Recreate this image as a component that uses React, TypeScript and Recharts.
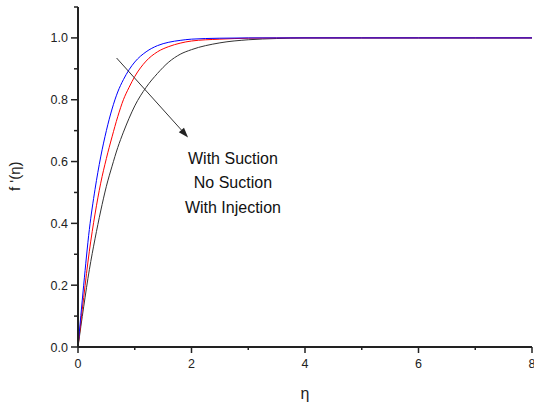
import React from "react";
import { LineChart, Line, XAxis, YAxis, ReferenceLine, ReferenceDot } from "recharts";

const eta = [0, 0.1, 0.2, 0.3, 0.4, 0.5, 0.6, 0.7, 0.8, 0.9, 1.0, 1.2, 1.4, 1.6, 1.8, 2.0, 2.5, 3.0, 3.5, 4.0, 5.0, 6.0, 7.0, 8.0];
const withSuction = [0, 0.2, 0.38, 0.51, 0.615, 0.7, 0.77, 0.825, 0.865, 0.897, 0.922, 0.955, 0.975, 0.986, 0.992, 0.996, 0.999, 1.0, 1.0, 1.0, 1.0, 1.0, 1.0, 1.0];
const noSuction = [0, 0.16, 0.31, 0.43, 0.53, 0.61, 0.68, 0.745, 0.8, 0.84, 0.875, 0.925, 0.955, 0.972, 0.983, 0.99, 0.996, 0.999, 1.0, 1.0, 1.0, 1.0, 1.0, 1.0];
const withInjection = [0, 0.13, 0.25, 0.35, 0.44, 0.52, 0.585, 0.645, 0.695, 0.74, 0.78, 0.84, 0.885, 0.922, 0.947, 0.962, 0.984, 0.994, 0.998, 1.0, 1.0, 1.0, 1.0, 1.0];

const xMajorTicks = [0, 2, 4, 6, 8];
const xMinorTicks = [1, 3, 5, 7];
const yMajorTicks = [0, 0.2, 0.4, 0.6, 0.8, 1.0];
const yMinorTicks = [0.1, 0.3, 0.5, 0.7, 0.9, 1.1];
const legendLabels = ["With Suction", "No Suction", "With Injection"];

const data = eta.map((e, i) => ({
  eta: e,
  s: withSuction[i],
  n: noSuction[i],
  j: withInjection[i],
}));

const FONT = "Liberation Sans, Arial, sans-serif";

const isMajor = (v: number, majors: number[]) => majors.some((m) => Math.abs(m - v) < 1e-9);

const YTick = (props: any) => {
  const { x, y, payload } = props;
  const major = isMajor(payload.value, yMajorTicks);
  return (
    <g>
      <line x1={x} x2={x - (major ? 7 : 4)} y1={y} y2={y} stroke="#222" strokeWidth={1.5} />
      {major && (
        <text x={x - 10} y={y} dy="0.36em" textAnchor="end" fontSize={12.5} fill="#222" fontFamily={FONT}>
          {payload.value.toFixed(1)}
        </text>
      )}
    </g>
  );
};

const XTick = (props: any) => {
  const { x, y, payload } = props;
  const major = isMajor(payload.value, xMajorTicks);
  return (
    <g>
      <line x1={x} x2={x} y1={y} y2={y + (major ? 6 : 3)} stroke="#222" strokeWidth={1.5} />
      {major && (
        <text x={x} y={y + 21} textAnchor="middle" fontSize={12.5} fill="#222" fontFamily={FONT}>
          {String(payload.value)}
        </text>
      )}
    </g>
  );
};

const ArrowShape = (props: any) => {
  const { x1, y1, x2, y2 } = props;
  if ([x1, y1, x2, y2].some((v) => typeof v !== "number" || isNaN(v))) return null;
  const ang = Math.atan2(y2 - y1, x2 - x1);
  const len = 10;
  const w = 3.5;
  const bx = x2 - len * Math.cos(ang);
  const by = y2 - len * Math.sin(ang);
  const px = -Math.sin(ang) * w;
  const py = Math.cos(ang) * w;
  return (
    <g>
      <line x1={x1} y1={y1} x2={bx} y2={by} stroke="#333" strokeWidth={1} />
      <polygon points={`${x2},${y2} ${bx + px},${by + py} ${bx - px},${by - py}`} fill="#222" />
    </g>
  );
};

const makeTextShape = (label: string) => (props: any) => {
  const { cx, cy } = props;
  return (
    <text x={cx} y={cy} textAnchor="middle" fontSize={16} fill="#111" fontFamily={FONT}>
      {label}
    </text>
  );
};

export default function App() {
  return (
    <div style={{ position: "absolute", left: 0, top: 0, background: "#fff" }}>
      <LineChart width={534} height={405} data={data} margin={{ top: 7, right: 2, bottom: 0, left: 0 }}>
        <XAxis
          type="number"
          dataKey="eta"
          domain={[0, 8]}
          ticks={[...xMajorTicks, ...xMinorTicks].sort((a, b) => a - b)}
          interval={0}
          height={58}
          tickSize={0}
          tickMargin={0}
          tickLine={false}
          axisLine={{ stroke: "#222", strokeWidth: 2 }}
          tick={<XTick />}
          label={{ value: "η", position: "insideTop", dy: 36, fontSize: 16, fill: "#222", fontFamily: FONT }}
        />
        <YAxis
          type="number"
          domain={[0, 1.1]}
          ticks={[...yMajorTicks, ...yMinorTicks].sort((a, b) => a - b)}
          interval={0}
          width={78}
          tickSize={0}
          tickMargin={0}
          tickLine={false}
          axisLine={{ stroke: "#222", strokeWidth: 2 }}
          tick={<YTick />}
          label={{ value: "f '(η)", angle: -90, position: "insideLeft", dx: 10, dy: 14, fontSize: 15, fill: "#222", fontFamily: FONT }}
        />
        <Line type="monotone" dataKey="j" stroke="#333333" strokeWidth={1} dot={false} isAnimationActive={false} />
        <Line type="monotone" dataKey="n" stroke="#ff0000" strokeWidth={1} dot={false} isAnimationActive={false} />
        <Line type="monotone" dataKey="s" stroke="#0000ff" strokeWidth={1} dot={false} isAnimationActive={false} />
        <ReferenceLine
          segment={[{ x: 0.68, y: 0.935 }, { x: 1.94, y: 0.678 }]}
          shape={<ArrowShape />}
          ifOverflow="visible"
        />
        <ReferenceDot x={2.73} y={0.592} r={0} shape={makeTextShape(legendLabels[0])} ifOverflow="visible" />
        <ReferenceDot x={2.73} y={0.514} r={0} shape={makeTextShape(legendLabels[1])} ifOverflow="visible" />
        <ReferenceDot x={2.73} y={0.435} r={0} shape={makeTextShape(legendLabels[2])} ifOverflow="visible" />
      </LineChart>
    </div>
  );
}
